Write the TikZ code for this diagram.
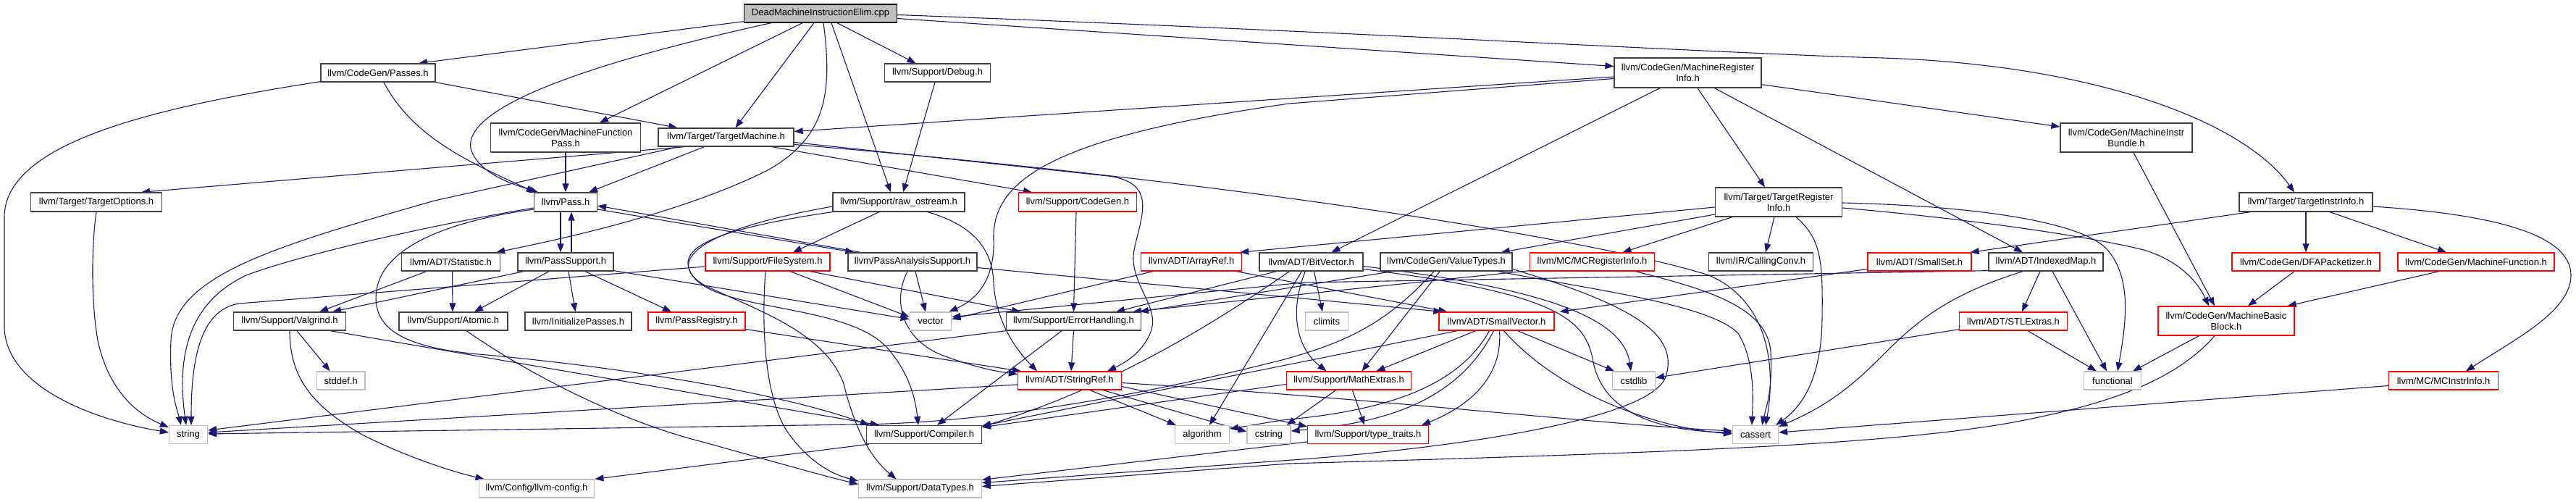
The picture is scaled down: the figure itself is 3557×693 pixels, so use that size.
\documentclass[tikz,border=0pt]{standalone}
\usepackage{fontspec}
\setmainfont{Liberation Sans}
\usetikzlibrary{arrows.meta,calc}
\definecolor{edgec}{RGB}{25,25,112}
\definecolor{leafgray}{RGB}{191,191,191}
\definecolor{rootfill}{RGB}{191,191,191}
\definecolor{boxdark}{RGB}{64,64,64}
\definecolor{boxred}{RGB}{255,0,0}
\pgfdeclarelayer{bg}
\pgfsetlayers{bg,main}
\begin{document}
\begin{tikzpicture}[x=1pt,y=-1pt,
  box/.style={rectangle, draw=boxdark, fill=white, line width=1.3pt, inner sep=0pt, minimum height=25pt, align=center, font=\fontsize{13}{15}\selectfont},
  two/.style={minimum height=40pt},
  redbox/.style={box, draw=boxred},
  leaf/.style={box, draw=leafgray},
  rootbox/.style={box, draw=black, fill=rootfill},
  e/.style={draw=edgec, line width=1.1pt, -{Triangle[length=12pt,width=9pt]}},
]
\useasboundingbox (0,0) rectangle (3557,693);
% ---------- nodes ----------
\node[rootbox, minimum width=211pt] (root) at (1133,18.5) {DeadMachineInstructionElim.cpp};
\node[box, minimum width=158pt] (passes) at (522,100.5) {llvm/CodeGen/Passes.h};
\node[box, two, minimum width=207pt] (mfp) at (781,190) {llvm/CodeGen/MachineFunction\\Pass.h};
\node[box, minimum width=187pt] (tm) at (1002.5,189.5) {llvm/Target/TargetMachine.h};
\node[box, minimum width=146pt] (debug) at (1294.5,100.5) {llvm/Support/Debug.h};
\node[box, two, minimum width=203pt, minimum height=41pt] (mri) at (2330.5,100.5) {llvm/CodeGen/MachineRegister\\Info.h};
\node[box, minimum width=184pt, minimum height=26pt] (tii) at (3184,279) {llvm/Target/TargetInstrInfo.h};
\node[box, two, minimum width=182pt] (mib) at (2936,190) {llvm/CodeGen/MachineInstr\\Bundle.h};
\node[box, minimum width=181pt, minimum height=26pt] (topt) at (133,279) {llvm/Target/TargetOptions.h};
\node[box, minimum width=87pt, minimum height=26pt] (pass) at (781,279) {llvm/Pass.h};
\node[box, minimum width=182pt, minimum height=26pt] (raw) at (1241,279) {llvm/Support/raw\_ostream.h};
\node[redbox, minimum width=163pt, minimum height=26pt] (cgen) at (1488,279) {llvm/Support/CodeGen.h};
\node[box, two, minimum width=175pt] (tri) at (2456,279) {llvm/Target/TargetRegister\\Info.h};
% row 361.5
\node[box, minimum width=136pt] (stat) at (622.5,361.5) {llvm/ADT/Statistic.h};
\node[box, minimum width=132pt] (psup) at (781,361.5) {llvm/PassSupport.h};
\node[redbox, minimum width=172pt] (fs) at (1060,361.5) {llvm/Support/FileSystem.h};
\node[box, minimum width=178pt] (pas) at (1260,361.5) {llvm/PassAnalysisSupport.h};
\node[redbox, minimum width=139pt] (aref) at (1645,361.5) {llvm/ADT/ArrayRef.h};
\node[box, minimum width=143pt] (bitv) at (1810.5,361.5) {llvm/ADT/BitVector.h};
\node[box, minimum width=182pt] (vt) at (1997,361.5) {llvm/CodeGen/ValueTypes.h};
\node[redbox, minimum width=172pt] (mcri) at (2198.5,361.5) {llvm/MC/MCRegisterInfo.h};
\node[box, minimum width=144pt] (cc) at (2431.5,361.5) {llvm/IR/CallingConv.h};
\node[redbox, minimum width=143pt] (sset) at (2650.5,361.5) {llvm/ADT/SmallSet.h};
\node[box, minimum width=158pt] (imap) at (2825,361.5) {llvm/ADT/IndexedMap.h};
\node[redbox, minimum width=204pt] (dfa) at (3184,361.5) {llvm/CodeGen/DFAPacketizer.h};
\node[redbox, minimum width=216pt] (mf) at (3419,361.5) {llvm/CodeGen/MachineFunction.h};
% row 443.5
\node[box, minimum width=155pt] (valg) at (400,443.5) {llvm/Support/Valgrind.h};
\node[box, minimum width=150pt] (atomic) at (626,443.5) {llvm/Support/Atomic.h};
\node[box, minimum width=147pt] (initp) at (798.5,443.5) {llvm/InitializePasses.h};
\node[redbox, minimum width=134pt] (preg) at (962,443.5) {llvm/PassRegistry.h};
\node[leaf, minimum width=57.5pt] (vec) at (1285,443.5) {vector};
\node[box, minimum width=185.6pt] (eh) at (1482.5,443.5) {llvm/Support/ErrorHandling.h};
\node[leaf, minimum width=58.5pt] (climits) at (1832,443.5) {climits};
\node[redbox, minimum width=159pt] (svec) at (2066.5,443.5) {llvm/ADT/SmallVector.h};
\node[redbox, minimum width=148.5pt] (stl) at (2780,443.5) {llvm/ADT/STLExtras.h};
\node[redbox, two, minimum width=188pt] (mbb) at (3074,443) {llvm/CodeGen/MachineBasic\\Block.h};
% row 525.5
\node[leaf, minimum width=66.6pt] (stddef) at (470.7,525.5) {stddef.h};
\node[redbox, minimum width=143pt] (sref) at (1477,525.5) {llvm/ADT/StringRef.h};
\node[redbox, minimum width=172pt] (mext) at (1862.5,525.5) {llvm/Support/MathExtras.h};
\node[leaf, minimum width=58.5pt] (cstdlib) at (2256,525.5) {cstdlib};
\node[leaf, minimum width=79pt] (func) at (2917,525.5) {functional};
\node[redbox, minimum width=151pt] (mcii) at (3374,525.5) {llvm/MC/MCInstrInfo.h};
% row 600
\node[leaf, minimum width=53pt] (string) at (260,600) {string};
\node[box, minimum width=159pt] (comp) at (1276,600) {llvm/Support/Compiler.h};
\node[leaf, minimum width=75pt] (algo) at (1660,600) {algorithm};
\node[leaf, minimum width=60pt] (cstring) at (1752,600) {cstring};
\node[redbox, minimum width=167pt] (tt) at (1889,600) {llvm/Support/type\_traits.h};
\node[leaf, minimum width=63pt] (cassert) at (2424,600) {cassert};
% row 674.5
\node[leaf, minimum width=159.5pt] (lcfg) at (741,674.5) {llvm/Config/llvm-config.h};
\node[leaf, minimum width=169.6pt] (dt) at (1270.5,674.5) {llvm/Support/DataTypes.h};
% ---------- edges ----------
\begin{pgfonlayer}{bg}
\fill[white] (0,0) rectangle (3557,693);
% root
\draw[e] ($(root.south west)+(0,-2)$) -- ($(passes.north)+(56,0)$);
\draw[e] ($(root.south)+(-68,0)$) .. controls (800,90) and (640,150) .. (650,205) .. controls (660,240) and (710,255) .. ($(pass.north)+(-38,0)$);
\draw[e] ($(root.south)+(-25,0)$) -- ($(mfp.north)+(47,0)$);
\draw[e] ($(root.south)+(-9,0)$) -- ($(tm.north)+(13,0)$);
\draw[e] ($(root.south)+(4,0)$) .. controls (1150,130) and (1140,190) .. (1060,235) .. controls (950,290) and (800,325) .. ($(stat.north east)+(-6,0)$);
\draw[e] ($(root.south)+(15,0)$) -- ($(raw.north)+(-11,0)$);
\draw[e] ($(root.south)+(23,0)$) -- ($(debug.north)+(-30,0)$);
\draw[e] ($(root.east)+(0,7)$) -- ($(mri.west)+(0,-9)$);
\draw[e] ($(root.east)+(0,2)$) .. controls (1900,45) and (2400,75) .. (2600,80) .. controls (2900,90) and (3100,170) .. ($(tii.north)+(-16,0)$);
% passes
\draw[e] (passes.south east) -- ($(tm.north west)+(27,0)$);
\draw[e] ($(passes.south)+(8,0)$) .. controls (570,190) and (650,225) .. ($(pass.north west)+(2,0)$);
\draw[e] ($(passes.south west)+(0,-1)$) .. controls (200,150) and (6,200) .. (6,300) -- (6,450) .. controls (6,530) and (120,578) .. ($(string.west)+(0,-3)$);
% mfp, debug
\draw[e] (mfp.south) -- (pass.north);
\draw[e] ($(debug.south)+(-3.5,0)$) -- ($(raw.north)+(6,0)$);
% tm
\draw[e] ($(tm.south)+(-30,0)$) -- ($(pass.north)+(32,0)$);
\draw[e] ($(tm.south west)+(37,0)$) -- ($(topt.north)+(62,0)$);
\draw[e] ($(tm.south west)+(29,0)$) -- (600,277) .. controls (380,340) and (240,380) .. (236,470) .. controls (233,540) and (246,570) .. ($(string.north)+(-10,0)$);
\draw[e] ($(tm.south east)+(-31,0)$) -- ($(cgen.north)+(-63,0)$);
\draw[e] ($(tm.east)+(0,7)$) -- (1530,243) .. controls (1600,252) and (1575,300) .. (1566,345) .. controls (1558,390) and (1600,420) .. (1590,455) .. controls (1580,485) and (1555,500) .. ($(sref.north east)+(-20,0)$);
\draw[e] ($(tm.east)+(0,10)$) .. controls (1700,250) and (2200,330) .. (2360,380) .. controls (2450,420) and (2450,520) .. ($(cassert.north)+(14,0)$);
% mri
\draw[e] ($(mri.west)+(0,5.5)$) -- ($(tm.east)+(0,-8)$);
\draw[e] ($(mri.west)+(0,8)$) -- (1780,143) .. controls (1450,190) and (1370,250) .. (1372,330) .. controls (1374,390) and (1345,415) .. ($(vec.north east)+(-4,0)$);
\draw[e] ($(mri.south)+(-38.5,0)$) -- ($(bitv.north)+(28,0)$);
\draw[e] ($(mri.south)+(13.5,0)$) -- ($(tri.north)+(-19,0)$);
\draw[e] ($(mri.south)+(37,0)$) -- ($(imap.north)+(-32,0)$);
\draw[e] ($(mri.south east)+(0,-5)$) -- ($(mib.west)+(0,-15)$);
% mib, tii
\draw[e] ($(mib.south)+(10,0)$) -- ($(mbb.north)+(-16,0)$);
\draw[e] ($(tii.south west)+(16,0)$) -- ($(sset.north east)+(-2,0)$);
\draw[e] (tii.south) -- (dfa.north);
\draw[e] ($(tii.south)+(33,0)$) -- ($(mf.north)+(-41,0)$);
\draw[e] ($(tii.east)+(0,6)$) .. controls (3430,295) and (3550,320) .. (3550,380) .. controls (3550,430) and (3470,470) .. ($(mcii.north)+(31,0)$);
% tri
\draw[e] ($(tri.west)+(0,7)$) -- ($(aref.north east)+(-3,0)$);
\draw[e] ($(tri.west)+(0,17)$) -- ($(vt.north east)+(-16,0)$);
\draw[e] ($(tri.south west)+(24,0)$) -- ($(mcri.north)+(42,0)$);
\draw[e] ($(tri.south)+(-6,0)$) -- ($(cc.north)+(6.5,0)$);
\draw[e] ($(tri.south)+(24,0)$) .. controls (2515,330) and (2517,360) .. (2516,440) .. controls (2515,520) and (2490,560) .. ($(cassert.north east)+(-4,0)$);
\draw[e] ($(tri.east)+(0,1)$) .. controls (2750,285) and (2880,310) .. (2910,345) .. controls (2945,385) and (2935,450) .. ($(func.north)+(7,0)$);
\draw[e] ($(tri.east)+(0,8)$) .. controls (2750,305) and (2900,330) .. (2960,345) .. controls (3010,360) and (3035,390) .. ($(mbb.north)+(-24,0)$);
% topt
\draw[e] (topt.south) .. controls (126,340) and (126,420) .. (135,470) .. controls (150,540) and (190,572) .. ($(string.north west)+(0,3)$);
% pass
\draw[e] ($(pass.south)+(-7,0)$) -- ($(psup.north)+(-7,0)$);
\draw[e] ($(psup.north)+(8,0)$) -- ($(pass.south)+(8,0)$);
\draw[e] ($(pass.east)+(0,10)$) -- ($(pas.north west)+(9,0)$);
\draw[e] ($(pas.north west)+(18,0)$) -- ($(pass.east)+(0,5)$);
\draw[e] ($(pass.west)+(0,8)$) .. controls (600,310) and (420,350) .. (340,380) .. controls (255,420) and (245,500) .. ($(string.north)+(-3,0)$);
\draw[e] ($(pass.west)+(0,10)$) .. controls (620,305) and (530,340) .. (520,400) .. controls (512,455) and (560,478) .. (650,488) .. controls (900,510) and (1100,550) .. ($(comp.north west)+(4,0)$);
% psup, stat
\draw[e] ($(psup.south west)+(9,0)$) -- ($(valg.north)+(59,0)$);
\draw[e] ($(psup.south)+(-23,0)$) -- ($(atomic.north)+(29,0)$);
\draw[e] ($(psup.south)+(4,0)$) -- ($(initp.north)+(-4,0)$);
\draw[e] ($(psup.south)+(27,0)$) -- ($(preg.north)+(-35,0)$);
\draw[e] ($(psup.south east)+(0,-1)$) -- ($(vec.west)+(0,-3)$);
\draw[e] ($(stat.south west)+(35,0)$) -- ($(valg.north)+(41,0)$);
\draw[e] ($(stat.south)+(2,0)$) -- ($(atomic.north)+(-1,0)$);
% valg, atomic, preg
\draw[e] ($(valg.south)+(10,0)$) -- ($(stddef.north)+(-15,0)$);
\draw[e] (valg.south) .. controls (400,520) and (430,560) .. (500,600) .. controls (560,630) and (620,650) .. ($(lcfg.north west)+(8,0)$);
\draw[e] ($(valg.south east)+(-22,0)$) -- ($(comp.north west)+(18,0)$);
\draw[e] ($(atomic.south)+(18,0)$) .. controls (720,510) and (850,580) .. (970,610) .. controls (1060,635) and (1130,655) .. ($(dt.west)+(0,-6)$);
\draw[e] ($(preg.east)+(0,11)$) -- ($(sref.north west)+(5,0)$);
% fs
\draw[e] ($(fs.west)+(0,6.5)$) -- (330,419) .. controls (275,428) and (264,500) .. ($(string.north)+(4,0)$);
\draw[e] ($(fs.south)+(-3,0)$) .. controls (1050,470) and (1060,560) .. (1090,600) .. controls (1120,640) and (1150,655) .. ($(dt.west)+(0,-10.5)$);
\draw[e] ($(fs.south east)+(-28,0)$) -- ($(eh.north west)+(20,0)$);
\draw[e] ($(fs.south)+(31,0)$) -- ($(vec.west)+(0,-6)$);
% pas
\draw[e] ($(pas.south)+(-7,0)$) .. controls (1230,420) and (1250,470) .. (1300,490) .. controls (1340,505) and (1370,512) .. ($(sref.west)+(0,-9)$);
\draw[e] ($(pas.south)+(4,0)$) -- ($(vec.north)+(-7,0)$);
\draw[e] ($(pas.east)+(0,8)$) -- ($(svec.north west)+(5,0)$);
% raw
\draw[e] ($(raw.south)+(-27,0)$) -- ($(fs.north)+(35,0)$);
\draw[e] ($(raw.south)+(40,0)$) .. controls (1340,310) and (1370,340) .. (1372,390) .. controls (1375,450) and (1410,490) .. ($(sref.north)+(-45,0)$);
\draw[e] (raw.south west) .. controls (960,320) and (930,350) .. (960,385) .. controls (1000,430) and (1170,420) .. (1225,480) .. controls (1260,520) and (1265,560) .. ($(comp.north)+(-8,0)$);
\draw[e] ($(raw.west)+(0,6)$) .. controls (950,320) and (920,365) .. (975,395) .. controls (1050,430) and (1140,460) .. (1165,530) .. controls (1180,590) and (1200,630) .. ($(dt.north)+(-33,0)$);
% cgen, aref
\draw[e] ($(cgen.south)+(-2,0)$) -- (eh.north);
\draw[e] ($(aref.south west)+(17,0)$) -- ($(vec.east)+(0,-3)$);
\draw[e] ($(aref.south east)+(-8,0)$) -- ($(svec.north west)+(12,0)$);
% bitv
\draw[e] ($(bitv.south west)+(24,0)$) -- ($(eh.north east)+(-35,0)$);
\draw[e] ($(bitv.south west)+(42,0)$) .. controls (1700,430) and (1550,530) .. ($(comp.north east)+(0,2)$);
\draw[e] ($(bitv.south west)+(59,0)$) -- ($(algo.north)+(10,0)$);
\draw[e] ($(bitv.south west)+(64,0)$) .. controls (1780,430) and (1790,480) .. ($(mext.north)+(-31,0)$);
\draw[e] ($(bitv.south)+(4,0)$) -- ($(climits.north)+(-6,0)$);
\draw[e] ($(bitv.east)+(0,6)$) .. controls (2100,395) and (2240,430) .. ($(cstdlib.north)+(-4,0)$);
\draw[e] ($(bitv.east)+(0,10)$) .. controls (2150,405) and (2190,440) .. (2200,500) .. controls (2215,575) and (2300,595) .. ($(cassert.west)+(0,-3)$);
% vt
\draw[e] ($(vt.south west)+(17,0)$) -- ($(eh.north east)+(-2,0)$);
\draw[e] ($(vt.south)+(-9,0)$) -- ($(mext.north)+(18,0)$);
\draw[e] ($(vt.south)+(-17,0)$) .. controls (1920,440) and (1870,470) .. (1770,497) .. controls (1560,550) and (1350,585) .. (1180,586) -- ($(string.east)+(0,-1)$);
\draw[e] ($(vt.south east)+(-20,0)$) .. controls (2200,400) and (2360,420) .. (2400,460) .. controls (2425,500) and (2420,560) .. ($(cassert.north)+(-5,0)$);
\draw[e] ($(vt.east)+(0,10)$) .. controls (2250,420) and (2320,460) .. (2300,520) .. controls (2280,580) and (2000,620) .. (1770,636) -- ($(dt.east)+(0,-8)$);
% mcri
\draw[e] ($(mcri.south west)+(0,-1)$) -- ($(eh.north east)+(-12,0)$);
\draw[e] ($(mcri.south east)+(-27,0)$) .. controls (2360,400) and (2440,425) .. (2445,485) .. controls (2448,540) and (2438,565) .. ($(cassert.north)+(9,0)$);
% sset, imap, stl
\draw[e] ($(sset.west)+(0,10)$) -- ($(svec.north east)+(7,0)$);
\draw[e] ($(imap.south west)+(0,-1)$) -- (1800,390) -- ($(vec.east)+(0,-6)$);
\draw[e] ($(imap.south)+(-32,0)$) .. controls (2680,410) and (2640,450) .. (2590,500) .. controls (2540,550) and (2500,570) .. ($(cassert.north east)+(0,2)$);
\draw[e] ($(imap.south)+(-8,0)$) -- ($(stl.north)+(12,0)$);
\draw[e] ($(imap.south)+(9,0)$) -- ($(func.north)+(-8,0)$);
\draw[e] ($(stl.south)+(20,0)$) -- ($(func.north west)+(18,0)$);
\draw[e] ($(stl.south west)+(0,-2)$) -- ($(cstdlib.east)+(0,-4)$);
% svec
\draw[e] ($(svec.south west)+(26,0)$) -- ($(comp.north east)+(0,1)$);
\draw[e] ($(svec.south)+(-29,0)$) -- ($(mext.north)+(38,0)$);
\draw[e] ($(svec.south)+(-10,0)$) .. controls (2010,540) and (1900,568) .. (1770,580) -- ($(algo.east)+(0,-8)$);
\draw[e] ($(svec.south)+(-4,0)$) .. controls (2010,560) and (1900,585) .. ($(cstring.east)+(0,-5)$);
\draw[e] ($(svec.south)+(4,0)$) .. controls (2075,520) and (2030,560) .. ($(tt.north east)+(-10,0)$);
\draw[e] ($(svec.south)+(10,0)$) .. controls (2150,540) and (2280,590) .. ($(cassert.west)+(0,-1)$);
\draw[e] ($(svec.south east)+(-51,0)$) -- ($(cstdlib.north west)+(3,0)$);
% mext
\draw[e] ($(mext.west)+(0,5)$) -- ($(comp.north east)+(0,3)$);
\draw[e] ($(mext.south)+(-18,0)$) -- ($(cstring.north east)+(-6,0)$);
\draw[e] ($(mext.south)+(5,0)$) -- ($(tt.north)+(-5,0)$);
% sref
\draw[e] ($(sref.west)+(0,5.5)$) -- ($(string.east)+(0,-3)$);
\draw[e] ($(sref.south)+(28,0)$) -- ($(algo.north west)+(2,0)$);
\draw[e] ($(sref.south east)+(-26,0)$) -- ($(cstring.west)+(0,-4)$);
\draw[e] ($(sref.east)+(0,8)$) -- ($(tt.north west)+(0,2)$);
\draw[e] ($(sref.east)+(0,3)$) .. controls (1900,550) and (2200,585) .. ($(cassert.west)+(0,-5)$);
% eh
\draw[e] (eh.south west) -- ($(string.east)+(0,-6)$);
\draw[e] (eh.south) -- ($(sref.north)+(2,0)$);
\draw[e] ($(eh.south west)+(77,0)$) -- ($(comp.north)+(18,0)$);
% leaves to config / datatypes
\draw[e] ($(comp.south west)+(4,0)$) -- (lcfg.north east);
\draw[e] ($(tt.west)+(0,10)$) -- ($(dt.north east)+(0,1)$);
\draw[e] ($(mbb.south)+(-16,0)$) .. controls (3000,530) and (2900,560) .. (2780,583) .. controls (2600,615) and (2300,625) .. (1780,640) -- ($(dt.east)+(0,-3)$);
\draw[e] ($(mbb.south west)+(57,0)$) -- ($(func.north east)+(-12,0)$);
\draw[e] ($(dfa.south)+(-16,0)$) -- ($(mbb.north)+(30,0)$);
\draw[e] ($(mf.south)+(-51,0)$) -- ($(mbb.north east)+(-10,0)$);
\draw[e] ($(mcii.west)+(0,7)$) -- ($(cassert.east)+(0,-3)$);
\end{pgfonlayer}
\end{tikzpicture}
\end{document}
